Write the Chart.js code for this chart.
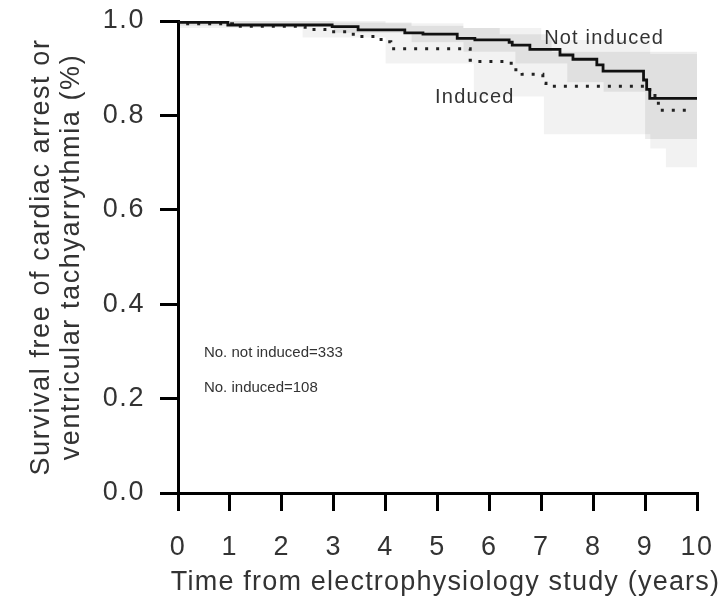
<!DOCTYPE html>
<html><head><meta charset="utf-8">
<script src="https://cdn.jsdelivr.net/npm/chart.js@4.4.1/dist/chart.umd.min.js"></script>
<style>html,body{margin:0;padding:0;background:#fff}</style>
</head><body>
<canvas id="c" width="724" height="615"></canvas>
<script>
// Kaplan-Meier step data (time in years, survival value after the step)
const notInducedT = [0, 0.05, 0.96, 2.97, 3.47, 4.37, 4.72, 5.38, 5.72, 6.38, 6.44, 6.78, 7.36, 7.61, 8.07, 8.19, 8.97, 9.03, 9.09, 10];
const notInducedS = [1.0, 0.997, 0.9915, 0.988, 0.981, 0.975, 0.972, 0.963, 0.960, 0.955, 0.949, 0.940, 0.928, 0.919, 0.907, 0.894, 0.875, 0.855, 0.836, 0.836];

const inducedT = [0, 0.05, 1.05, 2.45, 2.83, 3.28, 3.43, 3.80, 4.00, 4.10, 5.63, 5.78, 6.42, 6.51, 6.63, 7.03, 7.09, 9.09, 9.19, 9.30, 9.82];
const inducedS = [1.0, 0.994, 0.989, 0.982, 0.977, 0.972, 0.967, 0.961, 0.956, 0.941, 0.917, 0.914, 0.903, 0.892, 0.887, 0.868, 0.862, 0.847, 0.826, 0.811, 0.811];

// confidence bands (step starts)
const ciNotT     = [0, 3.0, 4.5, 5.5, 6.2, 6.5, 7.2, 7.5, 8.2, 9.0, 10];
const ciNotUpper = [1.0, 0.997, 0.99, 0.985, 0.972, 0.972, 0.935, 0.935, 0.935, 0.935, 0.935];
const ciNotLower = [0.99, 0.975, 0.955, 0.935, 0.935, 0.91, 0.91, 0.87, 0.85, 0.75, 0.75];

const ciIndT     = [0, 2.4, 4.0, 5.5, 5.7, 7.0, 7.05, 9.1, 9.4, 10];
const ciIndUpper = [1.0, 1.0, 0.995, 0.985, 0.985, 0.96, 0.96, 0.93, 0.93, 0.93];
const ciIndLower = [0.985, 0.965, 0.91, 0.91, 0.84, 0.84, 0.76, 0.73, 0.69, 0.69];

const xTicks = [0, 1, 2, 3, 4, 5, 6, 7, 8, 9, 10];
const yTicks = [0.0, 0.2, 0.4, 0.6, 0.8, 1.0];

const xTitle = 'Time from electrophysiology study (years)';
const yTitle = ['Survival free of cardiac arrest or', 'ventricular tachyarrythmia (%)'];

const notes = [
  {text: 'Not induced', x: 8.21, y: 0.964, align: 'center', size: 20},
  {text: 'Induced', x: 5.72, y: 0.839, align: 'center', size: 20},
  {text: 'No. not induced=333', x: 0.5, y: 0.297, align: 'left', size: 15},
  {text: 'No. induced=108', x: 0.5, y: 0.222, align: 'left', size: 15}
];

const pts = (t, s) => t.map((v, i) => ({x: v, y: s[i]}));
const FONT = '"Liberation Sans", Arial, sans-serif';
const LS = '1.6px';

const spacingPlugin = {
  id: 'spacing',
  beforeUpdate(chart) { chart.ctx.letterSpacing = LS; },
  beforeDraw(chart) { chart.ctx.letterSpacing = LS; }
};

const notesPlugin = {
  id: 'notes',
  afterDraw(chart) {
    const {ctx, scales: {x, y}} = chart;
    ctx.save();
    ctx.fillStyle = '#333';
    ctx.textBaseline = 'middle';
    notes.forEach(n => {
      ctx.font = n.size + 'px ' + FONT;
      ctx.letterSpacing = n.size > 16 ? '1.2px' : '0px';
      ctx.textAlign = n.align;
      ctx.fillText(n.text, x.getPixelForValue(n.x), y.getPixelForValue(n.y));
    });
    // x axis title (drawn without width compression)
    ctx.font = '27px ' + FONT;
    ctx.letterSpacing = '1.2px';
    ctx.textAlign = 'center';
    ctx.fillText(xTitle, (x.left + x.right) / 2 + 8, x.bottom - 32);
    ctx.restore();
  }
};

new Chart(document.getElementById('c'), {
  type: 'line',
  data: {
    datasets: [
      {label: 'Not induced', data: pts(notInducedT, notInducedS), stepped: 'before', borderColor: '#111', borderWidth: 2.8, pointRadius: 0, fill: false},
      {label: 'Induced', data: pts(inducedT, inducedS), stepped: 'before', borderColor: '#222', borderWidth: 3, borderDash: [3, 8], pointRadius: 0, fill: false},
      {label: 'ciNotU', data: pts(ciNotT, ciNotUpper), stepped: 'before', borderWidth: 0, borderColor: 'rgba(0,0,0,0)', pointRadius: 0, fill: {target: 3}, backgroundColor: 'rgba(0,0,0,0.075)'},
      {label: 'ciNotL', data: pts(ciNotT, ciNotLower), stepped: 'before', borderWidth: 0, borderColor: 'rgba(0,0,0,0)', pointRadius: 0, fill: false},
      {label: 'ciIndU', data: pts(ciIndT, ciIndUpper), stepped: 'before', borderWidth: 0, borderColor: 'rgba(0,0,0,0)', pointRadius: 0, fill: {target: 5}, backgroundColor: 'rgba(0,0,0,0.05)'},
      {label: 'ciIndL', data: pts(ciIndT, ciIndLower), stepped: 'before', borderWidth: 0, borderColor: 'rgba(0,0,0,0)', pointRadius: 0, fill: false}
    ]
  },
  options: {
    responsive: false,
    animation: false,
    devicePixelRatio: 1,
    layout: {padding: {left: 0, right: 27, top: 21, bottom: 0}},
    plugins: {legend: {display: false}, tooltip: {enabled: false}},
    scales: {
      x: {
        type: 'linear', min: 0, max: 10,
        afterFit(s) { s.height = 122; s.paddingRight = 0; s.paddingLeft = 0; },
        afterBuildTicks(s) { s.ticks = xTicks.map(v => ({value: v})); },
        grid: {drawOnChartArea: false, drawTicks: true, tickLength: 18, color: '#000', lineWidth: 3},
        border: {display: true, color: '#000', width: 3},
        ticks: {padding: 20, color: '#333', maxRotation: 0, autoSkip: false, font: {family: FONT, size: 27}, callback: v => String(v)},
        title: {display: false, text: xTitle}
      },
      y: {
        type: 'linear', min: 0, max: 1,
        afterFit(s) { s.width = 178; s.paddingTop = 0; s.paddingBottom = 0; },
        afterBuildTicks(s) { s.ticks = yTicks.map(v => ({value: v})); },
        grid: {drawOnChartArea: false, drawTicks: true, tickLength: 18, color: '#000', lineWidth: 3},
        border: {display: true, color: '#000', width: 3},
        ticks: {padding: 15, color: '#333', font: {family: FONT, size: 27}, callback: v => Number(v).toFixed(1)},
        title: {display: true, text: yTitle, color: '#333', font: {family: FONT, size: 27, lineHeight: 1.11}, padding: {top: 27, bottom: 0}}
      }
    }
  },
  plugins: [spacingPlugin, notesPlugin]
});
</script>
</body></html>
